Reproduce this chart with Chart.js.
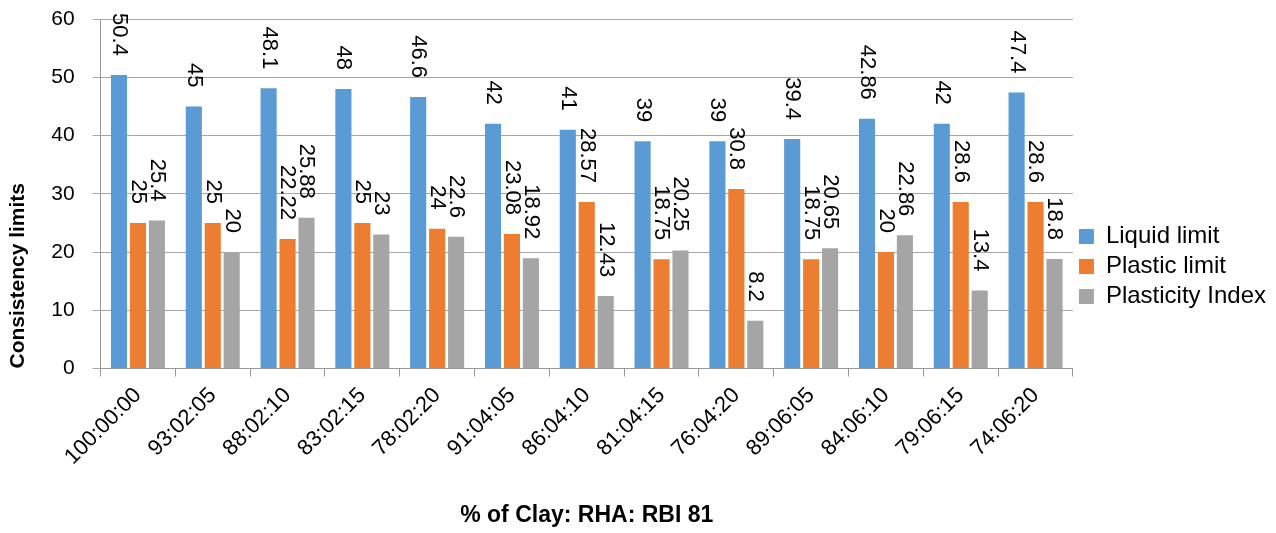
<!DOCTYPE html>
<html>
<head>
<meta charset="utf-8">
<script src="https://cdn.jsdelivr.net/npm/chart.js@4"></script>
<style>
    body { margin: 0; background: #fff; }
    #wrap { width: 1276px; height: 533px; }
</style>
</head>
<body>
<div id="wrap"><canvas id="limitsChart" width="1276" height="533"></canvas></div>
<script>
// Chart data
const categories = ['100:00:00', '93:02:05', '88:02:10', '83:02:15', '78:02:20', '91:04:05', '86:04:10',
    '81:04:15', '76:04:20', '89:06:05', '84:06:10', '79:06:15', '74:06:20'];
const liquidLimit = [50.4, 45, 48.1, 48, 46.6, 42, 41, 39, 39, 39.4, 42.86, 42, 47.4];
const plasticLimit = [25, 25, 22.22, 25, 24, 23.08, 28.57, 18.75, 30.8, 18.75, 20, 28.6, 28.6];
const plasticityIndex = [25.4, 20, 25.88, 23, 22.6, 18.92, 12.43, 20.25, 8.2, 20.65, 22.86, 13.4, 18.8];
const yTicks = [0, 10, 20, 30, 40, 50, 60];

const sansFont = '"Liberation Sans", Arial, sans-serif';

// Vertical value labels above each bar
const barLabels = {
    id: 'barLabels',
    afterDatasetsDraw(chart) {
        const ctx = chart.ctx;
        ctx.save();
        ctx.font = '22px ' + sansFont;
        ctx.fillStyle = '#000';
        ctx.textAlign = 'right';
        ctx.textBaseline = 'middle';
        chart.data.datasets.forEach((ds, i) => {
            chart.getDatasetMeta(i).data.forEach((bar, j) => {
                ctx.save();
                ctx.translate(bar.x, bar.y - 19);
                ctx.rotate(Math.PI / 2);
                ctx.fillText(String(ds.data[j]), 0, 0);
                ctx.restore();
            });
        });
        ctx.restore();
    }
};

new Chart(document.getElementById('limitsChart'), {
    type: 'bar',
    data: {
        labels: categories,
        datasets: [
            { label: 'Liquid limit', data: liquidLimit, backgroundColor: '#5B9BD5' },
            { label: 'Plastic limit', data: plasticLimit, backgroundColor: '#ED7D31' },
            { label: 'Plasticity Index', data: plasticityIndex, backgroundColor: '#A5A5A5' }
        ]
    },
    options: {
        responsive: false,
        animation: false,
        categoryPercentage: 0.76,
        barPercentage: 0.85,
        layout: { padding: { top: 0, right: 0, left: 2, bottom: 0 } },
        plugins: {
            legend: {
                position: 'right',
                labels: {
                    boxWidth: 15,
                    boxHeight: 15,
                    padding: 6,
                    color: '#000',
                    font: { size: 24, family: sansFont }
                }
            },
            tooltip: { enabled: false }
        },
        scales: {
            x: {
                grid: {
                    offset: true,
                    drawOnChartArea: false,
                    tickLength: 8,
                    color: '#999'
                },
                border: { color: '#999', width: 1 },
                ticks: {
                    color: '#000',
                    minRotation: 45,
                    maxRotation: 45,
                    padding: 6,
                    font: { size: 22, family: sansFont }
                },
                title: {
                    display: true,
                    text: '% of Clay: RHA: RBI 81',
                    color: '#000',
                    padding: { top: 25 },
                    font: { size: 23, weight: 'bold', family: sansFont }
                }
            },
            y: {
                min: 0,
                max: 60,
                afterBuildTicks(axis) {
                    axis.ticks = yTicks.map(v => ({ value: v }));
                },
                afterFit(axis) {
                    // keep the plot top close to the canvas edge
                    axis.paddingTop = 19;
                },
                grid: { color: '#a6a6a6', tickLength: 8 },
                border: { color: '#999' },
                ticks: {
                    color: '#000',
                    padding: 18,
                    font: { size: 21, family: sansFont }
                },
                title: {
                    display: true,
                    text: 'Consistency limits',
                    align: 'start',
                    color: '#000',
                    padding: { bottom: 2 },
                    font: { size: 21, weight: 'bold', family: sansFont }
                }
            }
        }
    },
    plugins: [barLabels]
});
</script>
</body>
</html>
